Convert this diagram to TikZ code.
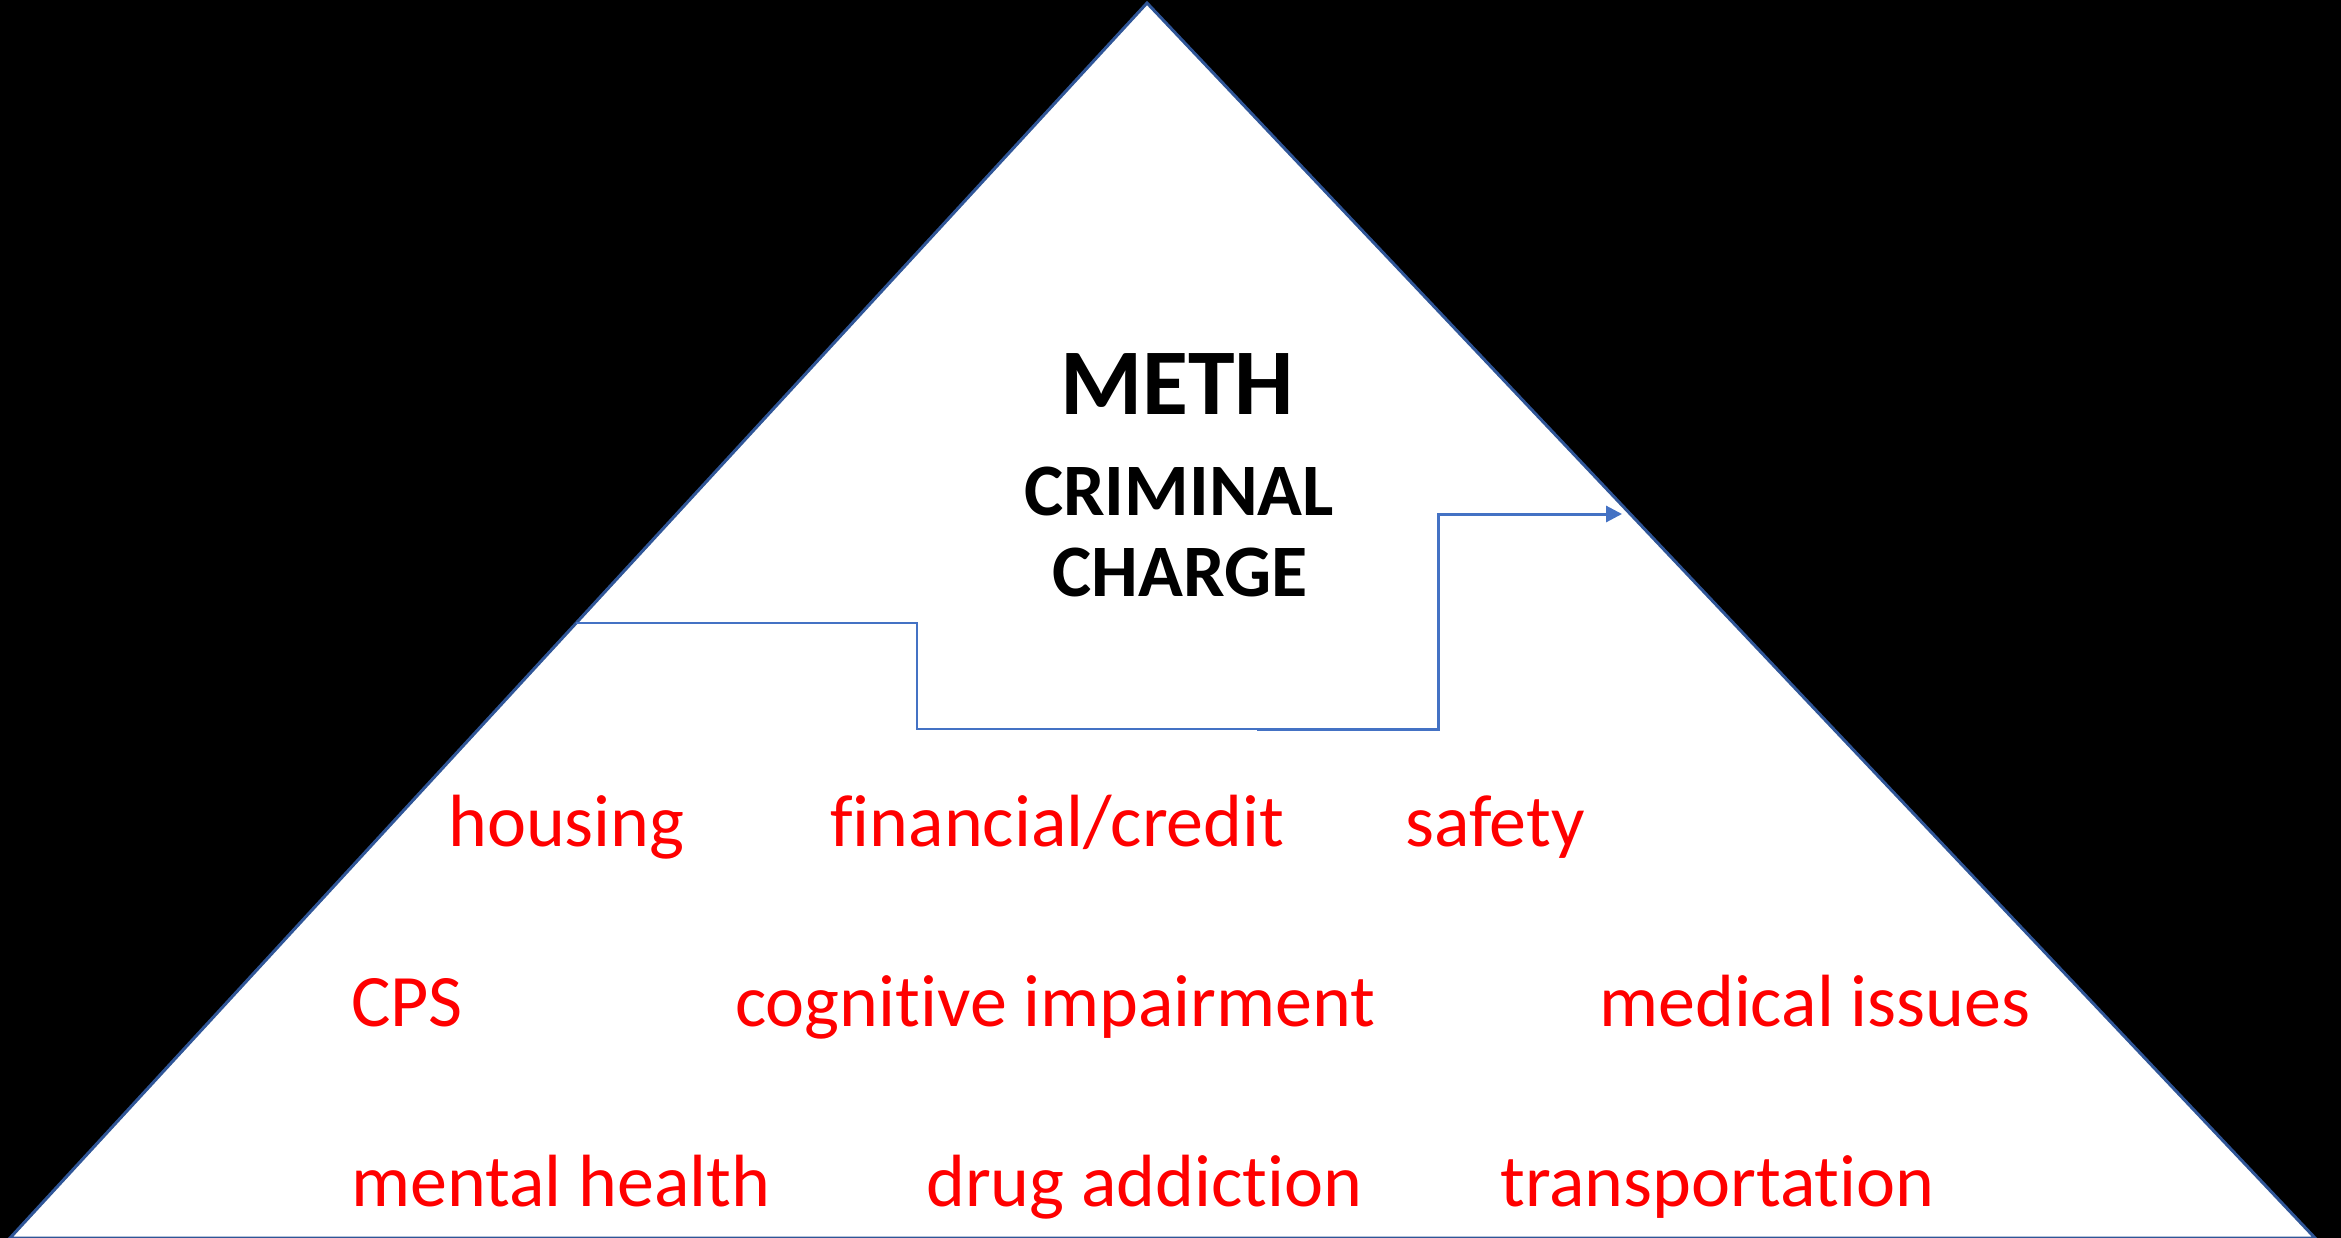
\documentclass[tikz,border=0pt]{standalone}
\usepackage{fontspec}
\setmainfont{Carlito}[Ligatures=NoCommon]
\usetikzlibrary{arrows.meta,calc}
\definecolor{triedge}{HTML}{2F5597}
\definecolor{flowblue}{HTML}{4472C4}
\definecolor{redtext}{HTML}{FF0000}
\tikzset{
  item/.style={anchor=base west, inner sep=0pt, text=redtext, font=\fontsize{74}{80}\selectfont},
  title/.style={anchor=base, inner sep=0pt, text=black, font=\bfseries\fontsize{94}{100}\selectfont},
  subtitle/.style={anchor=base, inner sep=0pt, text=black, font=\bfseries\fontsize{74}{80}\selectfont},
  flowthin/.style={draw=flowblue, line width=2pt},
  flowthick/.style={draw=flowblue, line width=3pt, -{Triangle[length=16pt,width=16pt]}}
}
\begin{document}
\begin{tikzpicture}[x=1pt,y=-1pt]
\fill[black] (0,0) rectangle (2341,1238);
\useasboundingbox (0,0) rectangle (2341,1238);
\coordinate (apex) at (1147,3);
\coordinate (bl) at (10,1238);
\coordinate (br) at (2315,1238);
\filldraw[fill=white, draw=triedge, line width=3pt, line join=miter] (apex) -- (br) -- (bl) -- cycle;
% titles
\node[title] (meth) at (1177,414) {METH};
\node[subtitle] (crim) at (1179,515) {CRIMINAL};
\node[subtitle] (charge) at (1180,596) {CHARGE};
% flow line
\coordinate (s0) at ($(bl)!0.498!(apex)$);
\coordinate (s1) at (917,623);
\coordinate (s2) at (917,729);
\coordinate (s3) at (1257,729);
\coordinate (s4) at (1438,729);
\coordinate (s5) at (1438,514);
\coordinate (s6) at (1622,514);
\draw[flowthin] (s0) -- (s0 -| s1) -- (s2) -- (s3);
\draw[flowthick] (s3) -- (s4) -- (s5) -- (s6);
% items
\node[item] (housing) at (448,846) {housing};
\node[item] (fin) at (830,846) {financial/credit};
\node[item] (safety) at (1405,846) {safety};
\node[item] (cps) at (351,1026) {CPS};
\node[item] (cog) at (735,1026) {cognitive impairment};
\node[item] (med) at (1599,1026) {medical issues};
\node[item] (mental) at (351,1206) {mental health};
\node[item] (drug) at (926,1206) {drug addiction};
\node[item] (trans) at (1500,1206) {transportation};
\end{tikzpicture}
\end{document}
